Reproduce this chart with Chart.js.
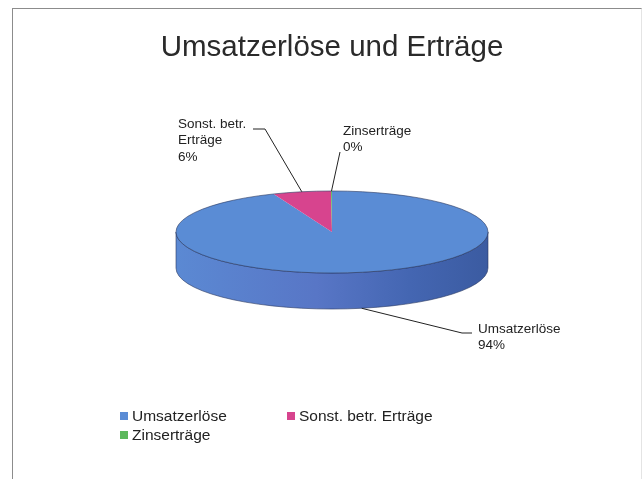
<!DOCTYPE html>
<html>
<head>
<meta charset="utf-8">
<script src="https://cdn.jsdelivr.net/npm/chart.js@4.4.0/dist/chart.umd.min.js"></script>
<style>
body{margin:0;background:#fff;font-family:"Liberation Sans",Arial,sans-serif;}
#wrap{position:relative;width:643px;height:479px;overflow:hidden;}
#frame{position:absolute;left:12px;top:8px;right:1px;bottom:-4px;border-left:1px solid #8c8c8c;border-top:1px solid #8c8c8c;border-right:1px solid #e4e4e4;pointer-events:none;}
#legend{position:absolute;left:120px;top:407px;font-size:15.5px;color:#222;display:grid;grid-template-columns:167px auto;}
.item{display:flex;align-items:center;height:18.5px;white-space:nowrap;}
.box{width:8px;height:8px;margin-right:4px;}
</style>
</head>
<body>
<div id="wrap">
  <canvas id="pie" width="643" height="479"></canvas>
  <div id="frame"></div>
  <div id="legend"></div>
</div>
<script>
const categories = ["Umsatzerlöse", "Sonst. betr. Erträge", "Zinserträge"];
const shares = [93.9, 6.0, 0.1];
const sliceColors = ["#5a8cd5", "#d7448e", "#5cb85c"];
const labelLines = [["Umsatzerlöse"], ["Sonst. betr.", "Erträge"], ["Zinserträge"]];

// look of the fake 3d disc
const squash = 0.263;
const depth = 36;
// label text origin and leader bends, relative to pie centre
const labelPlace = [
  {tx:146, ty:97, bends:[[140,101],[130,101]]},
  {tx:-154, ty:-108, bends:[[-79,-103],[-67,-103]]},
  {tx:11, ty:-101, bends:[[8,-80]]}
];

const total = shares.reduce((a,b)=>a+b,0);

// html legend
const legend = document.getElementById("legend");
categories.forEach((c,i)=>{
  const d = document.createElement("div");
  d.className = "item";
  d.innerHTML = '<span class="box" style="background:'+sliceColors[i]+'"></span>'+c;
  legend.appendChild(d);
});

const disc3d = {
  id:"disc3d",
  beforeDatasetsDraw(chart){
    const arc = chart.getDatasetMeta(0).data[0];
    const cx = arc.x, cy = arc.y, r = arc.outerRadius, ry = r*squash;
    const ctx = chart.ctx;
    // front wall, only for slices that reach the lower half
    chart.getDatasetMeta(0).data.forEach((a,i)=>{
      let s = a.startAngle, e = a.endAngle;
      for (let k=-1;k<=1;k++){
        const s2 = Math.max(s + k*2*Math.PI, 0), e2 = Math.min(e + k*2*Math.PI, Math.PI);
        if (e2 <= s2) continue;
        ctx.save();
        ctx.beginPath();
        ctx.ellipse(cx, cy, r, ry, 0, s2, e2);
        ctx.ellipse(cx, cy+depth, r, ry, 0, e2, s2, true);
        ctx.closePath();
        let fill = sliceColors[i];
        if (i===0){
          fill = ctx.createLinearGradient(cx-r,0,cx+r,0);
          fill.addColorStop(0,"#5b89d3");
          fill.addColorStop(0.45,"#5876c6");
          fill.addColorStop(0.75,"#4466b2");
          fill.addColorStop(1,"#3b5ba1");
        }
        ctx.fillStyle = fill;
        ctx.fill();
        ctx.strokeStyle = "rgba(40,55,95,0.75)";
        ctx.lineWidth = 0.8;
        ctx.stroke();
        ctx.restore();
      }
    });
    ctx.save();
    ctx.translate(cx, cy);
    ctx.scale(1, squash);
    ctx.translate(-cx, -cy);
  },
  afterDatasetsDraw(chart){
    const ctx = chart.ctx;
    ctx.restore();
    const arc = chart.getDatasetMeta(0).data[0];
    ctx.save();
    ctx.beginPath();
    ctx.ellipse(arc.x, arc.y, arc.outerRadius, arc.outerRadius*squash, 0, 0, 2*Math.PI);
    ctx.strokeStyle = "rgba(40,55,95,0.75)";
    ctx.lineWidth = 0.8;
    ctx.stroke();
    ctx.restore();
  },
  afterDraw(chart){
    const ctx = chart.ctx;
    const meta = chart.getDatasetMeta(0);
    const cx = meta.data[0].x, cy = meta.data[0].y, r = meta.data[0].outerRadius, ry = r*squash;
    ctx.save();
    ctx.font = '13.5px "Liberation Sans", Arial, sans-serif';
    ctx.fillStyle = "#222";
    ctx.textBaseline = "middle";
    ctx.strokeStyle = "#222";
    ctx.lineWidth = 1;
    meta.data.forEach((a,i)=>{
      const mid = (a.startAngle + a.endAngle)/2;
      const sn = Math.sin(mid);
      const ax = cx + r*Math.cos(mid);
      const ay = sn > 0 ? cy + depth + ry*sn : cy + ry*sn;
      const p = labelPlace[i];
      ctx.beginPath();
      p.bends.forEach((b,j)=>{
        if (j===0) ctx.moveTo(cx+b[0], cy+b[1]); else ctx.lineTo(cx+b[0], cy+b[1]);
      });
      ctx.lineTo(ax, ay);
      ctx.stroke();
      const lines = labelLines[i].concat([Math.round(shares[i]/total*100)+"%"]);
      lines.forEach((t,j)=>ctx.fillText(t, cx+p.tx, cy+p.ty+j*16.5));
    });
    ctx.restore();
  }
};

new Chart(document.getElementById("pie"),{
  type:"pie",
  data:{
    labels:categories,
    datasets:[{
      data:shares,
      backgroundColor:sliceColors,
      borderWidth:0,
      hoverBorderWidth:0,
      hoverOffset:0,
      clip:false
    }]
  },
  options:{
    responsive:false,
    animation:false,
    events:[],
    layout:{padding:{left:30,right:9,top:0,bottom:91}},
    plugins:{
      legend:{display:false},
      tooltip:{enabled:false},
      title:{
        display:true,
        text:"Umsatzerlöse und Erträge",
        color:"#2a2a2a",
        font:{size:29.5,family:'"Liberation Sans", Arial, sans-serif',weight:"normal",lineHeight:1.2},
        padding:{top:30,bottom:10.6}
      }
    }
  },
  plugins:[disc3d]
});
</script>
</body>
</html>
